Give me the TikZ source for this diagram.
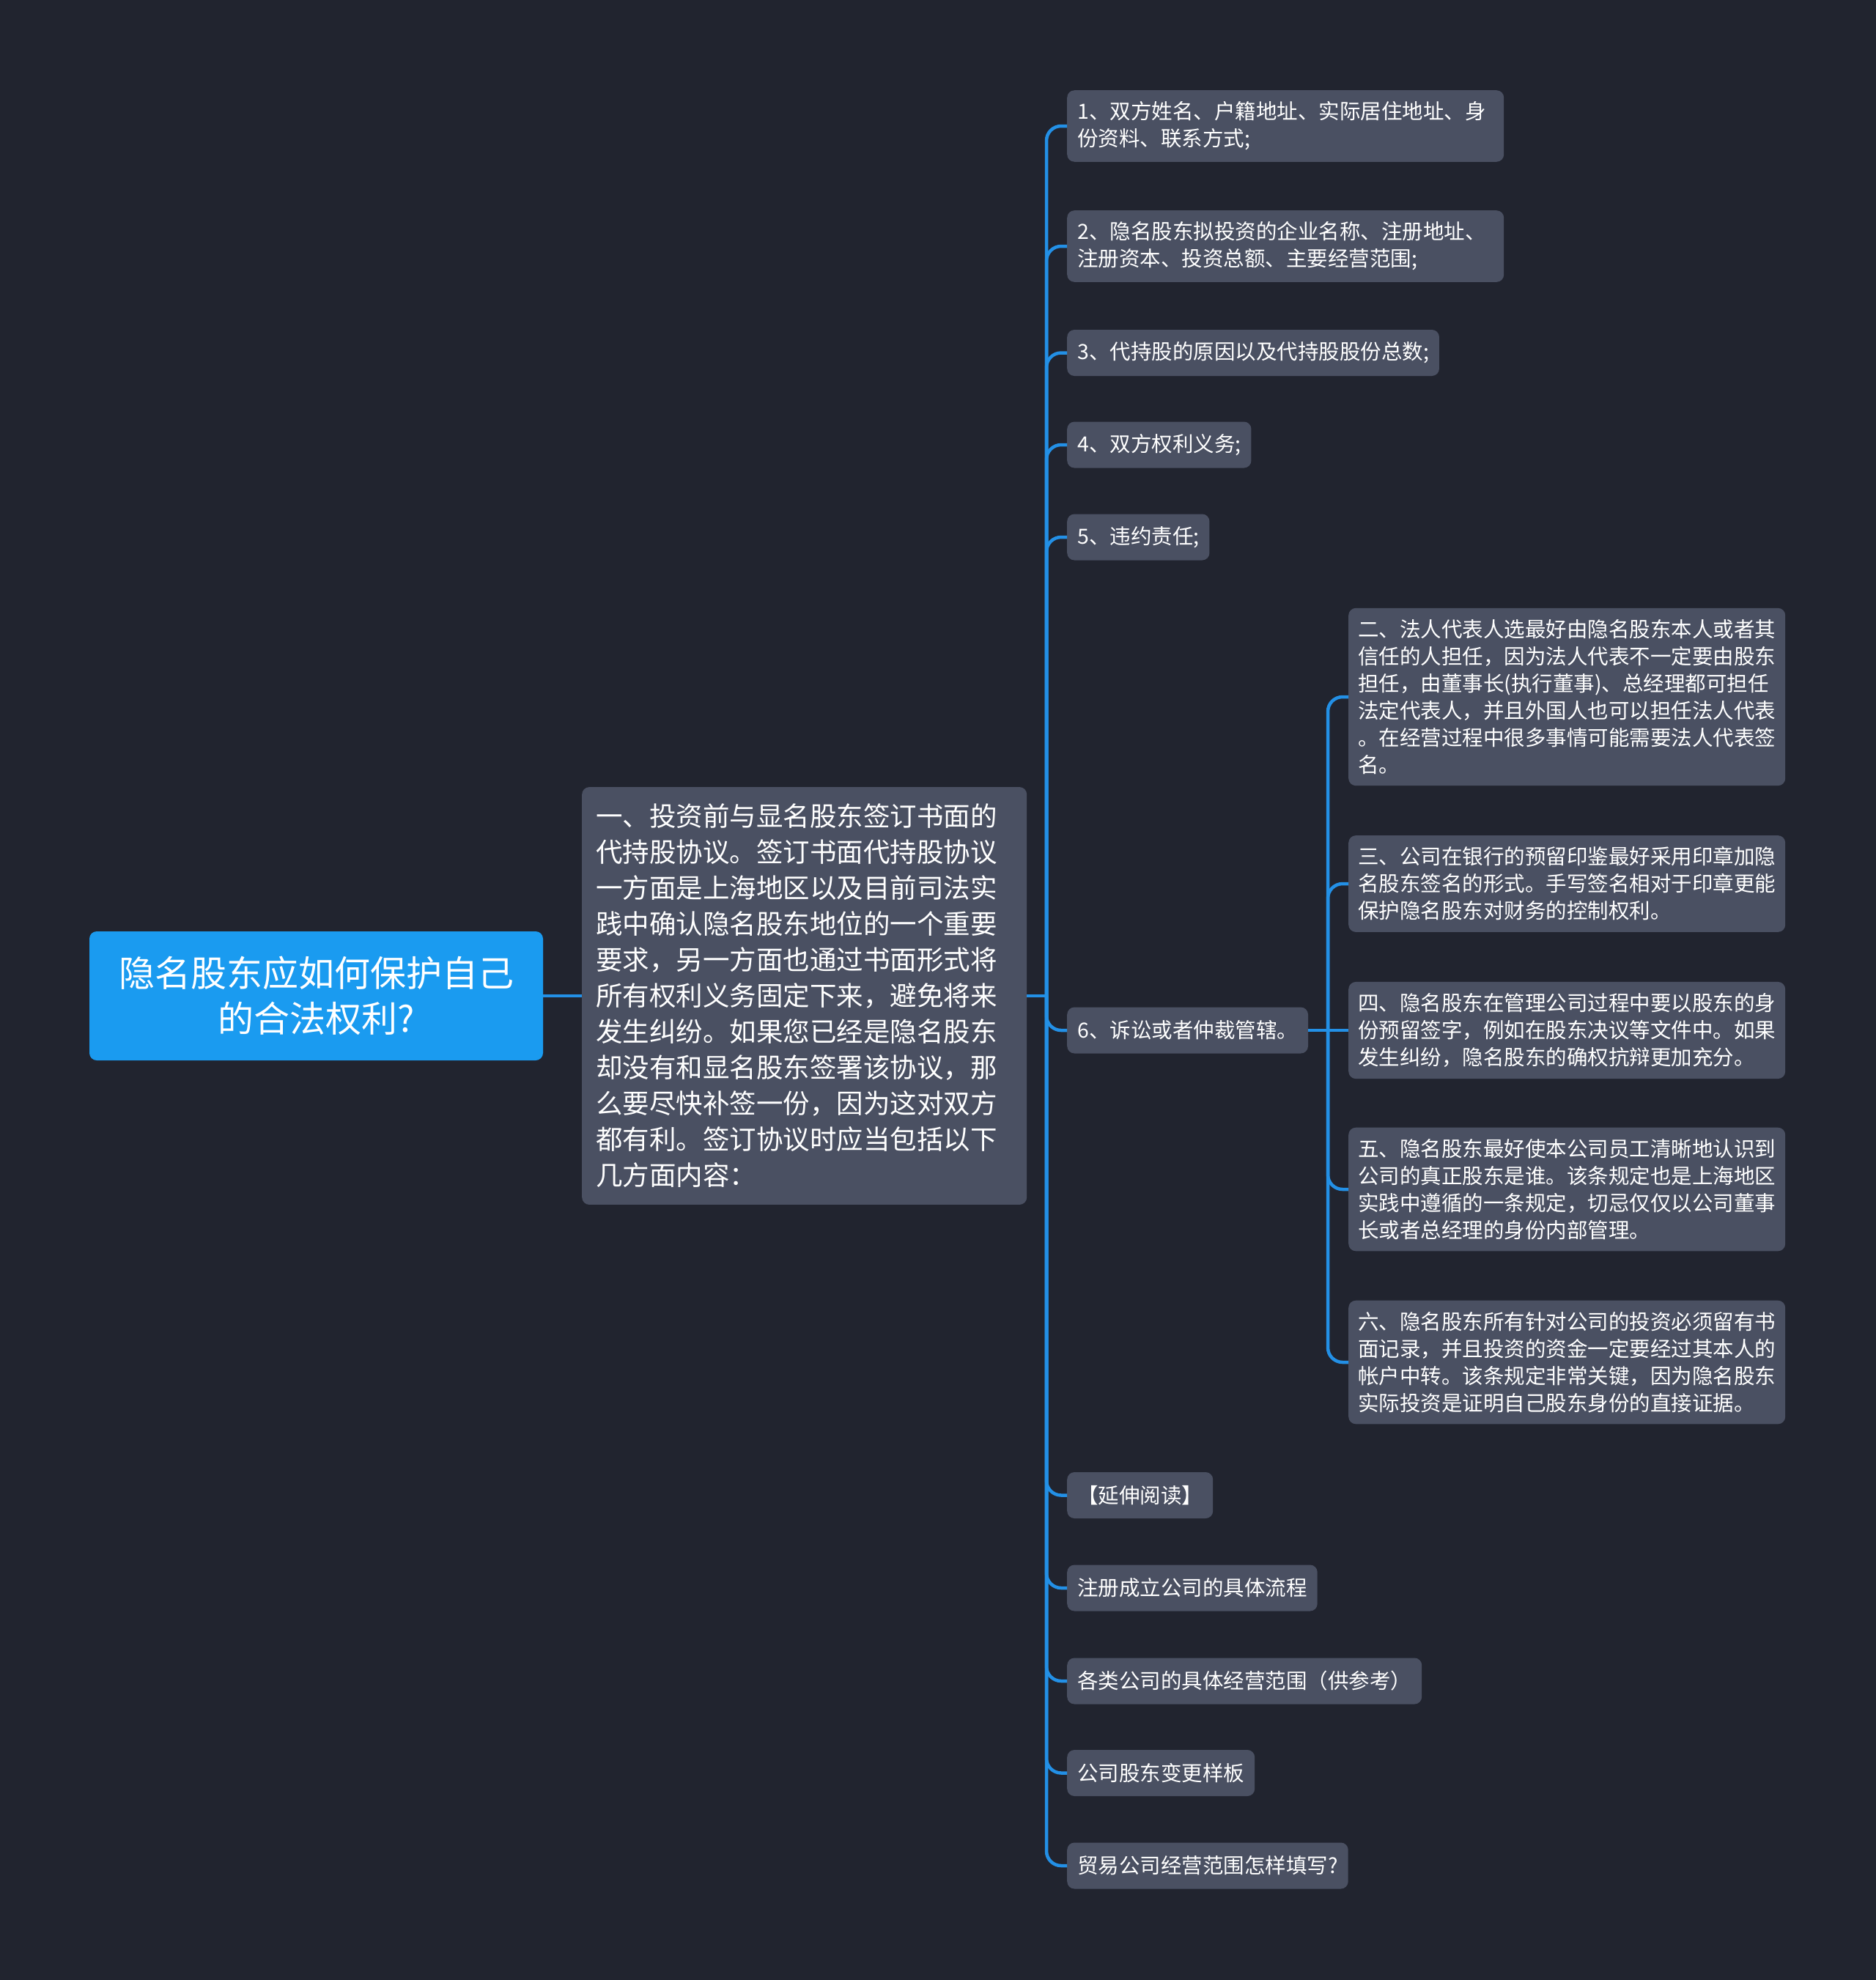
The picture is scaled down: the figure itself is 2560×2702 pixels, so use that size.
\documentclass[tikz,border=0pt]{standalone}
\usepackage{fontspec}
\setmainfont{Noto Sans CJK SC}
\usepackage{xcolor}
\usepackage{tikz}
\usetikzlibrary{calc}

\definecolor{bgdark}{HTML}{21242F}
\definecolor{rootblue}{HTML}{1A9BF0}
\definecolor{cardgray}{HTML}{4A5062}
\definecolor{linkblue}{HTML}{2390E6}

\tikzset{
  card/.style={fill=cardgray,text=white,rounded corners=10pt,align=left,
    inner xsep=14pt,inner ysep=15.5pt,anchor=west,
    font=\fontsize{28.5}{37}\selectfont},
  leaf/.style={card,minimum height=63pt},
  deep/.style={card,text width=570pt,inner xsep=13pt},
  link/.style={draw=linkblue,line width=4.5pt,rounded corners=20pt}
}

\begin{document}
\begin{tikzpicture}[x=1pt,y=-1pt]
        %%% BACKGROUND %%%
        \fill[bgdark] (0,0) rectangle (2560,2702);
        \useasboundingbox (0,0) rectangle (2560,2702);

        %%% COORDINATES %%%
        \draw (1428,1359) coordinate (hub);
        \draw (1812,1406) coordinate (subhub);

        %%% ROOT & MAIN %%%
        \node[fill=rootblue,text=white,rounded corners=10pt,align=center,
          minimum width=619pt,minimum height=176pt,
          font=\fontsize{49}{62}\selectfont] (root) at (431.5,1359)
          {隐名股东应如何保护自己\\的合法权利?};
        \node[card,text width=569pt,inner xsep=19pt,inner ysep=23pt,
          font=\fontsize{36.5}{49}\selectfont] (main) at (794,1359)
          {一、投资前与显名股东签订书面的\\代持股协议。签订书面代持股协议\\一方面是上海地区以及目前司法实\\践中确认隐名股东地位的一个重要\\要求，另一方面也通过书面形式将\\所有权利义务固定下来，避免将来\\发生纠纷。如果您已经是隐名股东\\却没有和显名股东签署该协议，那\\么要尽快补签一份，因为这对双方\\都有利。签订协议时应当包括以下\\几方面内容：};

        %%% SECOND LEVEL %%%
        \node[card,text width=568pt] (p1) at (1456,172)
          {1、双方姓名、户籍地址、实际居住地址、身\\份资料、联系方式;};
        \node[card,text width=568pt] (p2) at (1456,336)
          {2、隐名股东拟投资的企业名称、注册地址、\\注册资本、投资总额、主要经营范围;};
        \node[leaf] (p3) at (1456,481.5) {3、代持股的原因以及代持股股份总数;};
        \node[leaf] (p4) at (1456,607) {4、双方权利义务;};
        \node[leaf] (p5) at (1456,733) {5、违约责任;};
        \node[leaf] (p6) at (1456,1406) {6、诉讼或者仲裁管辖。};
        \node[leaf] (r1) at (1456,2040.5) {【延伸阅读】};
        \node[leaf] (r2) at (1456,2167) {注册成立公司的具体流程};
        \node[leaf] (r3) at (1456,2294) {各类公司的具体经营范围（供参考）};
        \node[leaf] (r4) at (1456,2419.5) {公司股东变更样板};
        \node[leaf] (r5) at (1456,2546) {贸易公司经营范围怎样填写?};

        %%% THIRD LEVEL %%%
        \node[deep] (q2) at (1840,951)
          {二、法人代表人选最好由隐名股东本人或者其\\信任的人担任，因为法人代表不一定要由股东\\担任，由董事长(执行董事)、总经理都可担任\\法定代表人，并且外国人也可以担任法人代表\\。在经营过程中很多事情可能需要法人代表签\\名。};
        \node[deep] (q3) at (1840,1206)
          {三、公司在银行的预留印鉴最好采用印章加隐\\名股东签名的形式。手写签名相对于印章更能\\保护隐名股东对财务的控制权利。};
        \node[deep] (q4) at (1840,1406)
          {四、隐名股东在管理公司过程中要以股东的身\\份预留签字，例如在股东决议等文件中。如果\\发生纠纷，隐名股东的确权抗辩更加充分。};
        \node[deep] (q5) at (1840,1623)
          {五、隐名股东最好使本公司员工清晰地认识到\\公司的真正股东是谁。该条规定也是上海地区\\实践中遵循的一条规定，切忌仅仅以公司董事\\长或者总经理的身份内部管理。};
        \node[deep] (q6) at (1840,1859)
          {六、隐名股东所有针对公司的投资必须留有书\\面记录，并且投资的资金一定要经过其本人的\\帐户中转。该条规定非常关键，因为隐名股东\\实际投资是证明自己股东身份的直接证据。};

        %%% CONNECTORS %%%
        \draw[link] (root.east) -- (main.west);
        \draw[link] (main.east) -- (hub);
        \foreach \n in {p1,p2,p3,p4,p5,p6,r1,r2,r3,r4,r5}
          \draw[link] (hub) |- (\n.west);
        \draw[link] (p6.east) -- (subhub);
        \foreach \n in {q2,q3,q5,q6}
          \draw[link] (subhub) |- (\n.west);
        \draw[link] (subhub) -- (q4.west);
    \end{tikzpicture}
\end{document}
